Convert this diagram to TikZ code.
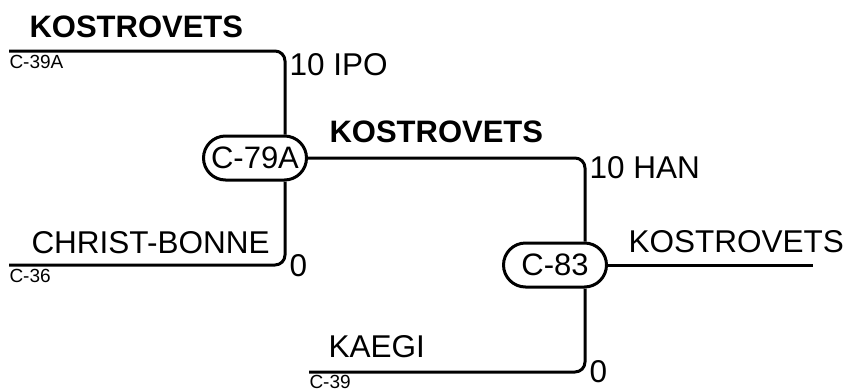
\documentclass[tikz,border=0pt]{standalone}
\usepackage{fontspec}
\setmainfont{Liberation Sans}
\usetikzlibrary{positioning}

\begin{document}
\begin{tikzpicture}[x=1pt,y=-1pt,line width=3pt]
\useasboundingbox (0,0) rectangle (850,391);
\tikzstyle{team}=[anchor=base west,inner sep=0pt,font=\fontsize{31.5}{31.5}\selectfont]
\tikzstyle{winner}=[team,font=\fontsize{31}{31}\selectfont\bfseries]
\tikzstyle{seed}=[anchor=base west,inner sep=0pt,font=\fontsize{19}{19}\selectfont]
\tikzstyle{game}=[draw,rectangle,rounded corners=22pt,minimum width=103pt,minimum height=44pt,inner sep=0pt,font=\fontsize{31}{31}\selectfont]

% games
\node[game] (m1) at (255,158) {C-79A};
\node[game] (m2) at (555,265) {C-83};

% bracket corners
\coordinate (a1) at (9,51);
\coordinate (c1) at (285,51);
\coordinate (a2) at (9,265);
\coordinate (c2) at (285,265);
\coordinate (c3) at (585,158);
\coordinate (a4) at (309,372);
\coordinate (c4) at (585,372);
\coordinate (out) at (813,265);

\draw[rounded corners=10pt] (a1) -- (c1) -- (c1 |- m1.north);
\draw[rounded corners=10pt] (a2) -- (c2) -- (c2 |- m1.south);
\draw[rounded corners=10pt] (m1.east) -- (c3) -- (c3 |- m2.north);
\draw[rounded corners=10pt] (a4) -- (c4) -- (c4 |- m2.south);
\draw (m2.east) -- (out);

% names and scores
\node[winner] (w1) at (28,37) {KOSTROVETS};
\node[seed] (s1) at (8,68) {C-39A};
\node[team] (p1) at (288,75) {10 IPO};
\node[team] (t2) at (30,253) {CHRIST-BONNE};
\node[seed] (s2) at (8,282) {C-36};
\node[team] (p2) at (288,276) {0};
\node[winner] (w3) at (328,142) {KOSTROVETS};
\node[team] (p3) at (588,178) {10 HAN};
\node[team] (w5) at (627,252) {KOSTROVETS};
\node[team] (t4) at (327,357) {KAEGI};
\node[seed] (s4) at (308,388) {C-39};
\node[team] (p4) at (588,382) {0};
\end{tikzpicture}
\end{document}
